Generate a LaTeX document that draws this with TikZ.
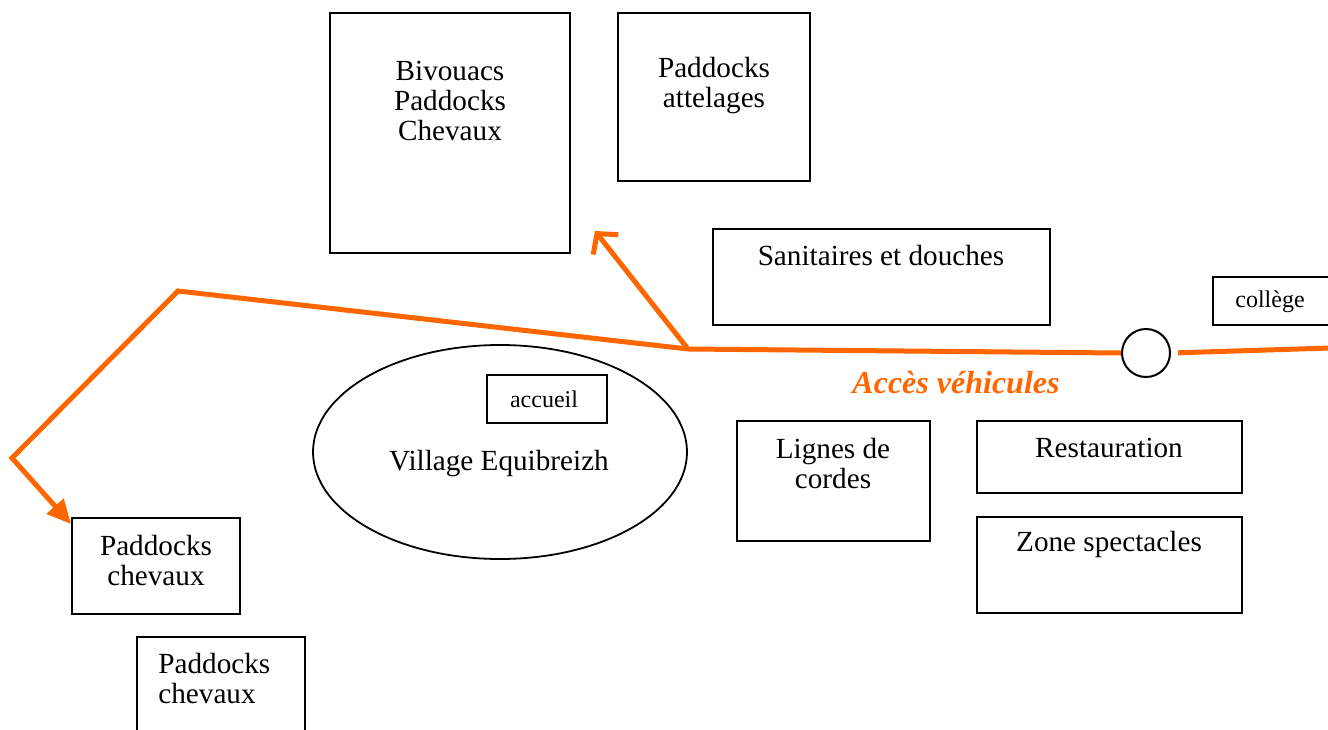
\documentclass[tikz,border=0pt]{standalone}
\usepackage{fontspec}
\setmainfont{Liberation Serif}
\usetikzlibrary{arrows.meta,shapes.geometric}
\definecolor{orng}{HTML}{FF6600}
\begin{document}
\begin{tikzpicture}[x=0.5pt,y=-0.5pt,
  zone/.style 2 args={draw, line width=0.9pt, rectangle, inner sep=0pt,
    minimum width=#1*0.5pt, minimum height=#2*0.5pt},
  lbl/.style={align=center, inner sep=0pt, font=\fontsize{14.6}{15}\selectfont},
  small/.style={inner sep=0pt, font=\fontsize{12}{14}\selectfont},
  road/.style={draw=orng, line width=2.5pt}]
\clip (0,0) rectangle (1328,729);
\fill[white] (0,0) rectangle (1328,729);
% boxes
\node[zone={240}{240}] (biv) at (450,133) {};
\node[zone={192}{168}] (att) at (714,97) {};
\node[zone={337}{96}] (san) at (881.5,277) {};
\node[zone={127}{48}] (col) at (1276.5,301) {};
\node[draw, line width=0.9pt, ellipse, inner sep=0pt, minimum width=374*0.5pt, minimum height=214*0.5pt] (vil) at (500,452) {};
\node[zone={120}{48}] (acc) at (547,399) {};
\node[zone={193}{120}] (lig) at (833.5,481) {};
\node[zone={265}{72}] (res) at (1109.5,457) {};
\node[zone={265}{96}] (zon) at (1109.5,565) {};
\node[zone={168}{96}] (pc1) at (156,566) {};
\node[zone={168}{103}] (pc2) at (221,688.5) {};
% texts
\node[lbl] (tbiv) at (450,101) {Bivouacs\\Paddocks\\Chevaux};
\node[lbl] (tatt) at (714,86) {Paddocks\\attelages};
\node[lbl] (tsan) at (881,256) {Sanitaires et douches};
\node[small] (tcol) at (1270,302) {collège};
\node[small] (tacc) at (544,399) {accueil};
\node[lbl] (tvil) at (499,464) {Village Equibreizh};
\node[lbl] (tlig) at (833,464) {Lignes de\\cordes};
\node[lbl] (tres) at (1109,448) {Restauration};
\node[lbl] (tzon) at (1109,544) {Zone spectacles};
\node[lbl] (tpc1) at (156,561) {Paddocks\\chevaux};
\node[lbl, align=left, anchor=west] (tpc2) at (158,679) {Paddocks\\chevaux};
\node[inner sep=0pt, text=orng, font=\fontsize{16}{18}\selectfont\bfseries\itshape] (tacv) at (956,383) {Accès véhicules};
% road
\node[circle, draw, line width=1pt, inner sep=0pt, minimum size=48*0.5pt] (cir) at (1146,353) {};
\coordinate (re) at (1330,348);
\coordinate (j) at (688,349);
\coordinate (k1) at (178,291);
\coordinate (k2) at (12,458);
\coordinate (tip1) at (595,231);
\coordinate (tip2) at (71,524);
\draw[road, shorten <=-2pt, shorten >=3.5pt] (re) -- (cir.east);
\draw[road] (cir.west) -- (j);
\draw[road, -{Triangle[length=12pt,width=11pt]}] (j) -- (k1) -- (k2) -- (tip2);
\draw[road, -{Straight Barb[length=7pt,width=16pt]}] (j) -- (tip1);
\end{tikzpicture}
\end{document}
